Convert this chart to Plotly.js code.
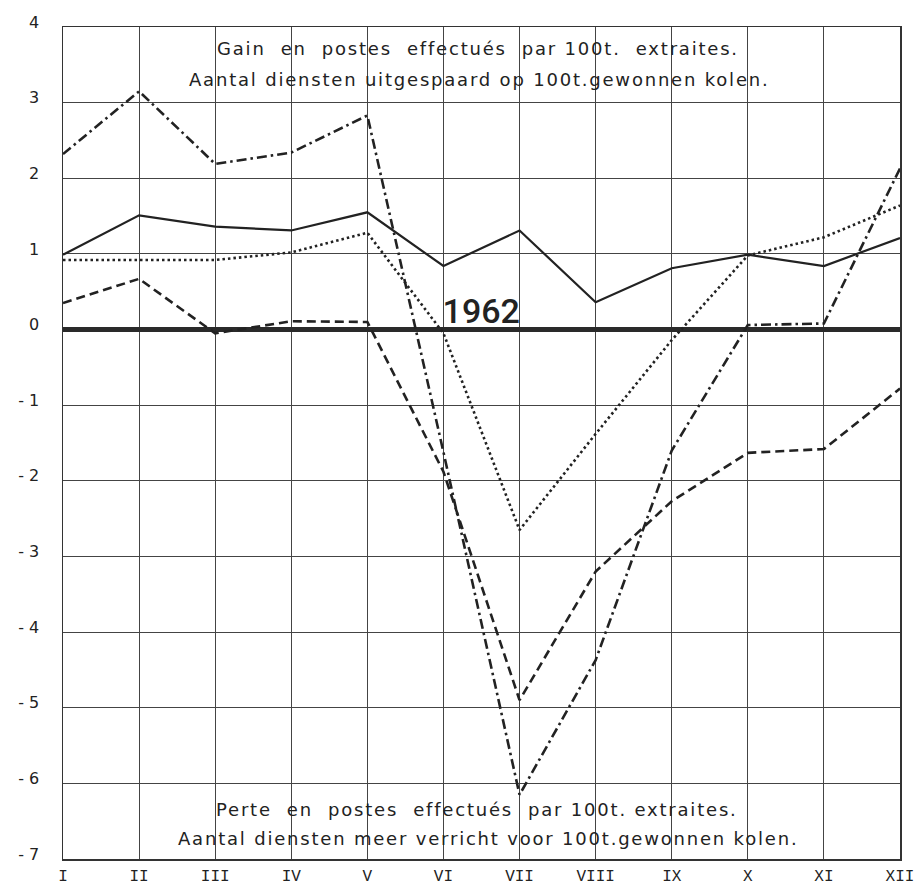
<!DOCTYPE html>
<html>
<head>
<meta charset="utf-8">
<script src="https://cdn.plot.ly/plotly-3.0.1.min.js"></script>
<style>
  html, body { margin: 0; padding: 0; background: #fff; }
  #chart { width: 914px; height: 885px; }
  .annotation-text { letter-spacing: 1.8px; }
  .annotation:last-of-type .annotation-text { letter-spacing: 0px; }
</style>
</head>
<body>
<div id="chart"></div>
<script>
// Months (x categories)
const months = ['I','II','III','IV','V','VI','VII','VIII','IX','X','XI','XII'];

// Series values
const solidSeries   = [0.99, 1.51, 1.36, 1.31, 1.55, 0.84, 1.31, 0.36, 0.81, 0.99, 0.84, 1.21];
const dottedSeries  = [0.92, 0.92, 0.92, 1.02, 1.28, -0.05, -2.65, -1.38, -0.14, 0.98, 1.22, 1.64];
const dashedSeries  = [0.35, 0.67, -0.05, 0.11, 0.10, -1.88, -4.90, -3.20, -2.27, -1.63, -1.58, -0.78];
const dashdotSeries = [2.32, 3.15, 2.19, 2.34, 2.83, -1.62, -6.15, -4.37, -1.60, 0.06, 0.08, 2.13];

// Y tick values and labels
const yTickVals = [-7, -6, -5, -4, -3, -2, -1, 0, 1, 2, 3, 4];
const yTickText = ['- 7', '- 6', '- 5', '- 4', '- 3', '- 2', '- 1', '0', '1', '2', '3', '4'];

// Text labels
const topLine1 = 'Gain  en  postes  effectués  par 100t.  extraites.';
const topLine2 = 'Aantal diensten uitgespaard op 100t.gewonnen kolen.';
const botLine1 = 'Perte  en  postes  effectués  par 100t. extraites.';
const botLine2 = 'Aantal diensten meer verricht voor 100t.gewonnen kolen.';
const yearLabel = '1962';

const ink = '#222';

const traces = [
  { x: months, y: solidSeries, mode: 'lines', line: { color: ink, width: 2.2 } },
  { x: months, y: dottedSeries, mode: 'lines', line: { color: ink, width: 2.6, dash: '2.5px,3px' } },
  { x: months, y: dashedSeries, mode: 'lines', line: { color: ink, width: 2.6, dash: '9px,5px' } },
  { x: months, y: dashdotSeries, mode: 'lines', line: { color: ink, width: 2.6, dash: '10px,4px,2.5px,4px' } }
];

const txtFont = { family: 'DejaVu Sans, sans-serif', size: 18, color: ink };

const layout = {
  width: 914, height: 885,
  margin: { l: 63, r: 14, t: 27, b: 26 },
  paper_bgcolor: '#fff', plot_bgcolor: '#fff',
  showlegend: false,
  xaxis: {
    type: 'category',
    range: [0, 11],
    showgrid: true, gridcolor: '#444', gridwidth: 1,
    showline: true, linecolor: '#333', linewidth: 1.5, mirror: true,
    ticks: '', ticklabelstandoff: 1,
    tickfont: { family: 'Liberation Mono, monospace', size: 16, color: ink },
    zeroline: false, fixedrange: true
  },
  yaxis: {
    range: [-7, 4],
    tickvals: yTickVals, ticktext: yTickText,
    showgrid: true, gridcolor: '#444', gridwidth: 1,
    showline: true, linecolor: '#333', linewidth: 1.5, mirror: true,
    zeroline: true, zerolinecolor: '#2a2a2a', zerolinewidth: 4.5,
    ticks: '', ticklabelstandoff: 19, ticklabelshift: -5,
    tickfont: { family: 'DejaVu Sans, sans-serif', size: 16, color: ink },
    fixedrange: true
  },
  annotations: [
    { text: topLine1, x: 5.46, y: 3.72, xref: 'x', yref: 'y', showarrow: false, font: txtFont },
    { text: topLine2, x: 5.47, y: 3.30, xref: 'x', yref: 'y', showarrow: false, font: txtFont },
    { text: botLine1, x: 5.44, y: -6.35, xref: 'x', yref: 'y', showarrow: false, font: txtFont },
    { text: botLine2, x: 5.58, y: -6.73, xref: 'x', yref: 'y', showarrow: false, font: txtFont },
    { text: yearLabel, x: 5.5, y: 0.24, xref: 'x', yref: 'y', showarrow: false,
      font: { family: 'Roboto, sans-serif', size: 34, color: ink, weight: 500 } }
  ]
};

Plotly.newPlot('chart', traces, layout, { displayModeBar: false, staticPlot: true });
</script>
</body>
</html>
